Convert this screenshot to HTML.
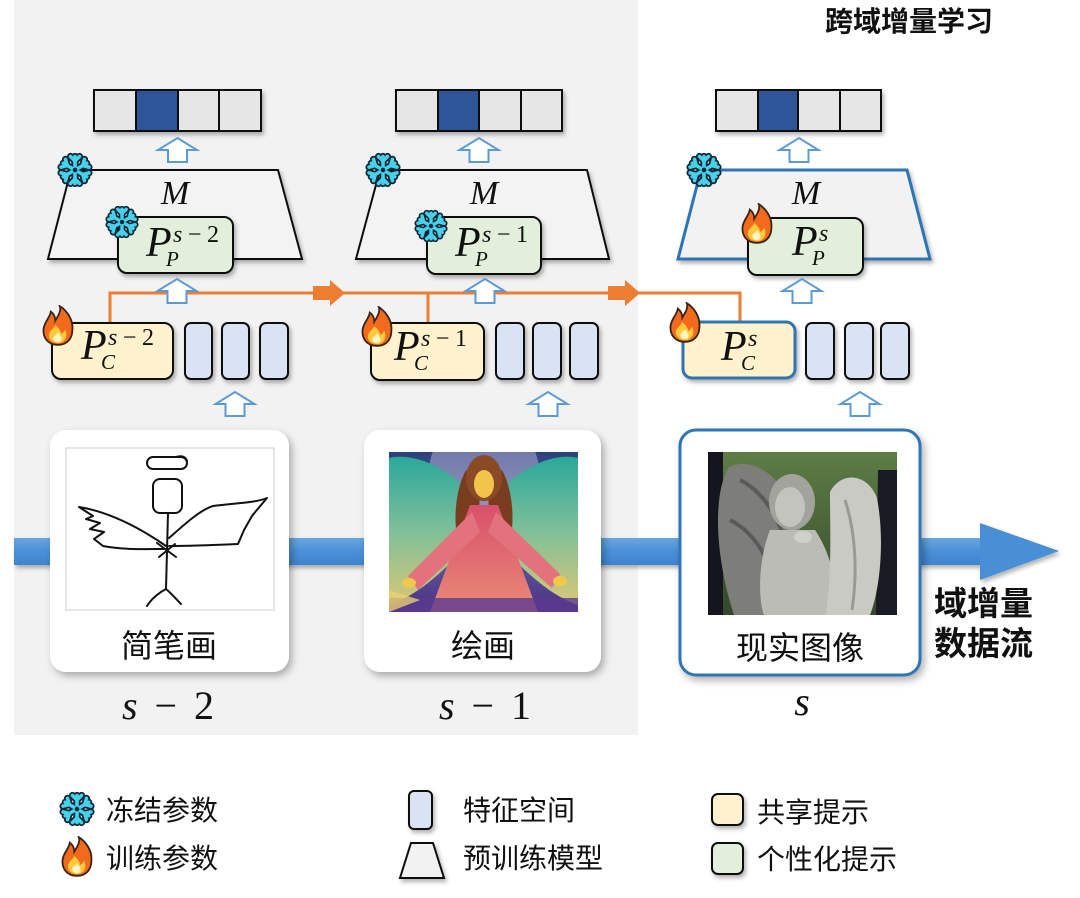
<!DOCTYPE html>
<html><head><meta charset="utf-8">
<style>
html,body{margin:0;padding:0;background:#fff;}
svg{display:block;}
.cjk{font-family:"Liberation Sans","Noto Sans CJK SC",sans-serif;}
.m{font-family:"Liberation Serif",serif;font-style:italic;fill:#111;}
</style></head>
<body>
<svg width="1080" height="898" viewBox="0 0 1080 898" xmlns="http://www.w3.org/2000/svg">
<defs>
  <filter id="sh" x="-20%" y="-20%" width="150%" height="160%">
    <feDropShadow dx="2" dy="3" stdDeviation="2" flood-color="#000" flood-opacity="0.3"/>
  </filter>
  <filter id="shc" x="-10%" y="-10%" width="130%" height="130%">
    <feDropShadow dx="3" dy="4" stdDeviation="4" flood-color="#000" flood-opacity="0.3"/>
  </filter>
  <linearGradient id="barg" x1="0" y1="0" x2="0" y2="1">
    <stop offset="0" stop-color="#6aa6de"/>
    <stop offset="0.5" stop-color="#4a8fd6"/>
    <stop offset="1" stop-color="#3f84cf"/>
  </linearGradient>
  <linearGradient id="pbg" x1="0" y1="0" x2="0" y2="1">
    <stop offset="0" stop-color="#2c3f7c"/>
    <stop offset="0.45" stop-color="#6a78a8"/>
    <stop offset="1" stop-color="#4a2e84"/>
  </linearGradient>
  <linearGradient id="wing" x1="0" y1="0" x2="0" y2="1">
    <stop offset="0" stop-color="#2aa89a"/>
    <stop offset="0.5" stop-color="#7fbf9a"/>
    <stop offset="1" stop-color="#d8c878"/>
  </linearGradient>
  <linearGradient id="dress" x1="0" y1="0" x2="0" y2="1">
    <stop offset="0" stop-color="#d8506a"/>
    <stop offset="1" stop-color="#e98a78"/>
  </linearGradient>
  <linearGradient id="sbg" x1="0" y1="0" x2="0" y2="1">
    <stop offset="0" stop-color="#5d7d45"/>
    <stop offset="1" stop-color="#34482a"/>
  </linearGradient>
  <clipPath id="c2"><rect x="389" y="452" width="189" height="160"/></clipPath>
  <clipPath id="c3"><rect x="708" y="452" width="189" height="163"/></clipPath>

  <symbol id="snow" viewBox="-20 -20 40 40">
    <g stroke="#14283a" stroke-width="8" stroke-linecap="round" fill="none">
      <g id="arm1"><line x1="0" y1="-15" x2="0" y2="15"/><polyline points="-5,-15 0,-10 5,-15"/><polyline points="-5,15 0,10 5,15"/></g>
      <use href="#arm1" transform="rotate(60)"/>
      <use href="#arm1" transform="rotate(120)"/>
    </g>
    <g stroke="#46d2ea" stroke-width="4" stroke-linecap="round" fill="none">
      <g id="arm2"><line x1="0" y1="-15" x2="0" y2="15"/><polyline points="-5,-15 0,-10 5,-15"/><polyline points="-5,15 0,10 5,15"/></g>
      <use href="#arm2" transform="rotate(60)"/>
      <use href="#arm2" transform="rotate(120)"/>
    </g>
    <circle cx="0" cy="0" r="2.6" fill="#14283a"/>
  </symbol>

  <symbol id="fire" viewBox="-20 -23 40 46">
    <path d="M0,21 C-12,21 -17,12 -16,3 C-15,-5 -9,-9 -8,-16 C-4,-13 -3,-9 -3,-6 C0,-11 4,-17 2,-22 C10,-17 17,-7 16,4 C16,14 10,21 0,21 Z" fill="#f26a1b" stroke="#3a2416" stroke-width="2"/>
    <path d="M0,19 C-7,19 -11,14 -10,9 C-9,5 -5,3 -3,-1 C1,2 3,6 4,9 C6,7 7,6 8,4 C11,10 9,19 0,19 Z" fill="#ffc93a"/>
    <path d="M0,18 C-4,18 -6,15 -5,12 C-3,10 -1,9 0,7 C2,10 4,12 4,14 C4,17 2,18 0,18 Z" fill="#fff4c8"/>
  </symbol>
</defs>

<rect width="1080" height="898" fill="#fff"/>
<rect x="14" y="0" width="624" height="735" fill="#f2f2f2"/>

<!-- Title -->
<text x="825" y="31" class="cjk" font-size="28" font-weight="700" fill="#111">跨域增量学习</text>

<!-- flow bar -->
<g filter="url(#sh)">
  <rect x="14" y="538" width="968" height="27" fill="url(#barg)"/>
  <polygon points="980,523 1059,551 980,580" fill="#4a8fd6"/>
</g>
<text x="934" y="615" class="cjk" font-size="33" font-weight="700" fill="#111">域增量</text>
<text x="934" y="655" class="cjk" font-size="33" font-weight="700" fill="#111">数据流</text>

<!-- cards -->
<rect x="50" y="430" width="239" height="242" rx="16" fill="#fff" filter="url(#shc)"/>
<rect x="364" y="430" width="237" height="242" rx="16" fill="#fff" filter="url(#shc)"/>
<rect x="680" y="430" width="240" height="245" rx="16" fill="#fff" stroke="#2e75b6" stroke-width="3" filter="url(#shc)"/>

<!-- image 1: sketch -->
<rect x="66" y="448" width="208" height="162" fill="#fff" stroke="#d4d4d4" stroke-width="1.2"/>
<g fill="none" stroke="#111" stroke-width="2" stroke-linecap="round" stroke-linejoin="round">
  <rect x="147" y="457" width="40" height="12" rx="6"/>
  <path d="M176,457 C182,455 186,457 187,461"/>
  <rect x="153" y="479" width="29" height="34" rx="7"/>
  <path d="M168,513 L166,589"/>
  <path d="M147,606 C152,598 160,592 166,589 C172,594 177,600 181,604"/>
  <path d="M166,546 C140,528 110,512 79,507 L93,516 L86,519 L100,523 L90,529 L104,532 L94,539 L103,546 C125,550 145,549 166,549"/>
  <path d="M169,538 C185,524 200,510 213,506 C235,503 255,503 267,498 L256,511 L252,516 L248,523 L244,530 L241,537 L238,544 C215,545 190,546 169,546"/>
  <path d="M157,543 L176,557 M159,557 L175,544"/>
</g>

<!-- image 2: painting -->
<g clip-path="url(#c2)">
  <rect x="389" y="452" width="189" height="160" fill="url(#pbg)"/>
  <circle cx="484" cy="472" r="55" fill="#c8c6e2" opacity="0.45"/>
  <path d="M478,500 C450,468 415,452 389,458 L389,605 C420,595 450,565 472,540 Z" fill="url(#wing)"/>
  <path d="M490,500 C518,468 553,452 578,458 L578,605 C548,595 518,565 496,540 Z" fill="url(#wing)"/>
  <path d="M466,470 C455,490 452,525 460,548 L478,535 L480,490 Z" fill="#7a3c1e"/>
  <path d="M502,470 C513,490 516,525 508,548 L490,535 L488,490 Z" fill="#7a3c1e"/>
  <path d="M470,505 L498,505 L538,612 L430,612 Z" fill="url(#dress)"/>
  <path d="M472,512 L408,576 L418,590 L480,532 Z" fill="#e2727c"/>
  <path d="M496,512 L560,574 L552,588 L488,532 Z" fill="#e2727c"/>
  <ellipse cx="409" cy="583" rx="7" ry="5" fill="#f0c84a"/>
  <ellipse cx="560" cy="581" rx="7" ry="5" fill="#f0c84a"/>
  <ellipse cx="484" cy="478" rx="18" ry="23" fill="#8a4a25"/>
  <ellipse cx="484" cy="484" rx="10" ry="14" fill="#f2c44a"/>
  <rect x="389" y="598" width="189" height="14" fill="#5b3a90" opacity="0.8"/>
  <path d="M389,590 L420,600 L389,612 Z" fill="#e7d070" opacity="0.8"/>
</g>

<!-- image 3: statue -->
<g clip-path="url(#c3)">
  <rect x="708" y="452" width="189" height="163" fill="url(#sbg)"/>
  <rect x="708" y="452" width="15" height="163" fill="#15151f"/>
  <polygon points="878,470 897,470 897,615 876,615" fill="#1a1a24"/>
  <path d="M800,525 C785,472 748,455 728,468 C712,498 716,560 734,615 L795,615 Z" fill="#7d7d7a"/>
  <path d="M740,480 C760,490 775,510 785,540 M730,520 C750,530 765,550 775,580" stroke="#5a5a58" stroke-width="4" fill="none"/>
  <ellipse cx="792" cy="502" rx="23" ry="28" fill="#a3a39e"/>
  <ellipse cx="790" cy="507" rx="15" ry="20" fill="#c4c4bf"/>
  <path d="M770,530 C758,560 758,600 764,615 L842,615 C836,580 830,552 815,530 Z" fill="#bcbcb7"/>
  <ellipse cx="803" cy="537" rx="9" ry="6" fill="#d0d0cb"/>
  <path d="M830,492 C842,470 868,474 877,498 C885,540 880,590 870,615 L826,615 C832,570 830,530 830,492 Z" fill="#cacac5"/>
  <path d="M845,500 C855,530 858,570 852,610" stroke="#9a9a95" stroke-width="3" fill="none"/>
</g>

<!-- card labels -->
<text x="169" y="657" class="cjk" font-size="32" text-anchor="middle" fill="#111">简笔画</text>
<text x="483" y="657" class="cjk" font-size="32" text-anchor="middle" fill="#111">绘画</text>
<text x="800" y="659" class="cjk" font-size="32" text-anchor="middle" fill="#111">现实图像</text>

<text x="168" y="719" font-family="Liberation Serif, serif" font-size="40" text-anchor="middle" fill="#111" textLength="92" lengthAdjust="spacing"><tspan font-style="italic">s</tspan> − 2</text>
<text x="485" y="719" font-family="Liberation Serif, serif" font-size="40" text-anchor="middle" fill="#111" textLength="92" lengthAdjust="spacing"><tspan font-style="italic">s</tspan> − 1</text>
<text x="802" y="715" font-family="Liberation Serif, serif" font-size="40" font-style="italic" text-anchor="middle" fill="#111">s</text>

<!-- output vectors -->
<g stroke="#111" stroke-width="2" filter="url(#sh)">
  <rect x="94" y="90" width="42" height="41" fill="#e7e6e6"/>
  <rect x="136" y="90" width="42" height="41" fill="#2f5597"/>
  <rect x="178" y="90" width="41" height="41" fill="#e7e6e6"/>
  <rect x="219" y="90" width="42" height="41" fill="#e7e6e6"/>

  <rect x="396" y="90" width="42" height="41" fill="#e7e6e6"/>
  <rect x="438" y="90" width="41" height="41" fill="#2f5597"/>
  <rect x="479" y="90" width="42" height="41" fill="#e7e6e6"/>
  <rect x="521" y="90" width="41" height="41" fill="#e7e6e6"/>

  <rect x="716" y="90" width="42" height="41" fill="#e7e6e6"/>
  <rect x="758" y="90" width="40" height="41" fill="#2f5597"/>
  <rect x="798" y="90" width="42" height="41" fill="#e7e6e6"/>
  <rect x="840" y="90" width="41" height="41" fill="#e7e6e6"/>
</g>

<!-- trapezoids -->
<polygon points="71,170 278,170 302,259 48,259" fill="#f3f3f3" stroke="#111" stroke-width="2" filter="url(#sh)"/>
<polygon points="380,170 587,170 609,259 356,259" fill="#f3f3f3" stroke="#111" stroke-width="2" filter="url(#sh)"/>
<polygon points="701,170 907,170 930,259 678,259" fill="#f2f2f2" stroke="#2e75b6" stroke-width="3" filter="url(#sh)"/>
<text x="175" y="204" class="m" font-size="34" text-anchor="middle">M</text>
<text x="484" y="204" class="m" font-size="34" text-anchor="middle">M</text>
<text x="806" y="204" class="m" font-size="34" text-anchor="middle">M</text>

<!-- orange connectors -->
<g stroke="#ed7d31" stroke-width="3" fill="none">
  <polyline points="110,323 110,293 740,293 740,322"/>
  <line x1="428" y1="293" x2="428" y2="323"/>
</g>
<polygon points="313,286 330,286 330,280 345,293 330,306 330,300 313,300" fill="#ed7d31"/>
<polygon points="608,286 625,286 625,280 640,293 625,306 625,300 608,300" fill="#ed7d31"/>

<!-- P_P boxes -->
<g filter="url(#sh)">
  <rect x="118" y="217" width="115" height="56" rx="9" fill="#e2efda" stroke="#111" stroke-width="2"/>
  <rect x="427" y="217" width="114" height="57" rx="9" fill="#e2efda" stroke="#111" stroke-width="2"/>
  <rect x="748" y="218" width="115" height="57" rx="9" fill="#e2efda" stroke="#111" stroke-width="2"/>
</g>
<!-- P_C boxes -->
<g filter="url(#sh)">
  <rect x="52" y="323" width="121" height="56" rx="9" fill="#fff2cc" stroke="#111" stroke-width="2"/>
  <rect x="371" y="323" width="113" height="57" rx="9" fill="#fff2cc" stroke="#111" stroke-width="2"/>
  <rect x="683" y="322" width="112" height="56" rx="9" fill="#fff2cc" stroke="#2e75b6" stroke-width="3"/>
</g>
<!-- feature rects -->
<g fill="#dae3f3" stroke="#111" stroke-width="2" filter="url(#sh)">
  <rect x="185" y="323" width="27" height="56" rx="6"/>
  <rect x="222" y="323" width="27" height="56" rx="6"/>
  <rect x="260" y="323" width="28" height="56" rx="6"/>
  <rect x="496" y="323" width="28" height="56" rx="6"/>
  <rect x="533" y="323" width="28" height="56" rx="6"/>
  <rect x="570" y="323" width="28" height="56" rx="6"/>
  <rect x="806" y="323" width="28" height="56" rx="6"/>
  <rect x="845" y="323" width="28" height="56" rx="6"/>
  <rect x="881" y="323" width="28" height="56" rx="6"/>
</g>

<!-- math labels -->
<g class="m">
  <!-- P_P -->
  <text x="146" y="256" font-size="42">P</text>
  <text x="173" y="242" font-size="24" textLength="46" lengthAdjust="spacing">s<tspan font-style="normal">−2</tspan></text>
  <text x="166" y="266" font-size="21">P</text>

  <text x="455" y="256" font-size="42">P</text>
  <text x="482" y="242" font-size="24" textLength="46" lengthAdjust="spacing">s<tspan font-style="normal">−1</tspan></text>
  <text x="475" y="266" font-size="21">P</text>

  <text x="792" y="255" font-size="42">P</text>
  <text x="819" y="241" font-size="24">s</text>
  <text x="812" y="265" font-size="21">P</text>
  <!-- P_C -->
  <text x="81" y="359" font-size="42">P</text>
  <text x="108" y="345" font-size="24" textLength="46" lengthAdjust="spacing">s<tspan font-style="normal">−2</tspan></text>
  <text x="101" y="369" font-size="21">C</text>

  <text x="394" y="360" font-size="42">P</text>
  <text x="421" y="346" font-size="24" textLength="46" lengthAdjust="spacing">s<tspan font-style="normal">−1</tspan></text>
  <text x="414" y="370" font-size="21">C</text>

  <text x="721" y="360" font-size="42">P</text>
  <text x="748" y="346" font-size="24">s</text>
  <text x="741" y="370" font-size="21">C</text>
</g>

<!-- hollow up arrows -->
<g fill="#fff" stroke="#5b9bd5" stroke-width="2" stroke-linejoin="miter">
  <polygon points="168,162 168,150 158,150 177.5,138 197,150 187,150 187,162"/>
  <polygon points="469.5,162 469.5,150 459.5,150 479,138 498.5,150 488.5,150 488.5,162"/>
  <polygon points="789.5,162 789.5,150 779.5,150 799,138 818.5,150 808.5,150 808.5,162"/>

  <polygon points="167.5,303 167.5,291 157.5,291 177,279 196.5,291 186.5,291 186.5,303"/>
  <polygon points="475.5,303 475.5,291 465.5,291 485,279 504.5,291 494.5,291 494.5,303"/>
  <polygon points="792.5,303 792.5,291 782.5,291 802,279 821.5,291 811.5,291 811.5,303"/>

  <polygon points="225.5,416 225.5,404 215.5,404 235,392 254.5,404 244.5,404 244.5,416"/>
  <polygon points="538.5,416 538.5,404 528.5,404 548,392 567.5,404 557.5,404 557.5,416"/>
  <polygon points="850.5,416 850.5,404 840.5,404 860,392 879.5,404 869.5,404 869.5,416"/>
</g>

<!-- icons -->
<use href="#snow" x="57" y="152" width="36" height="36"/>
<use href="#snow" x="105" y="205" width="34" height="34"/>
<use href="#snow" x="365" y="152" width="36" height="36"/>
<use href="#snow" x="414" y="209" width="34" height="34"/>
<use href="#snow" x="686" y="152" width="36" height="36"/>

<use href="#fire" x="40" y="305" width="36" height="42"/>
<use href="#fire" x="359" y="306" width="36" height="42"/>
<use href="#fire" x="739" y="203" width="36" height="42"/>
<use href="#fire" x="667" y="302" width="36" height="42"/>

<!-- legend -->
<use href="#snow" x="59" y="791" width="36" height="36"/>
<text x="106" y="820" class="cjk" font-size="28" fill="#111">冻结参数</text>
<use href="#fire" x="59" y="836" width="36" height="42"/>
<text x="106" y="868" class="cjk" font-size="28" fill="#111">训练参数</text>

<rect x="409" y="791" width="23" height="38" rx="5" fill="#dae3f3" stroke="#111" stroke-width="2" filter="url(#sh)"/>
<text x="463" y="820" class="cjk" font-size="28" fill="#111">特征空间</text>
<polygon points="411,843 433,843 444,878 400,878" fill="#f2f2f2" stroke="#111" stroke-width="2" filter="url(#sh)"/>
<text x="463" y="868" class="cjk" font-size="28" fill="#111">预训练模型</text>

<rect x="712" y="794" width="31" height="31" rx="6" fill="#fff2cc" stroke="#111" stroke-width="2" filter="url(#sh)"/>
<text x="757" y="822" class="cjk" font-size="28" fill="#111">共享提示</text>
<rect x="712" y="843" width="31" height="31" rx="6" fill="#e2efda" stroke="#111" stroke-width="2" filter="url(#sh)"/>
<text x="757" y="869" class="cjk" font-size="28" fill="#111">个性化提示</text>
</svg>
</body></html>
